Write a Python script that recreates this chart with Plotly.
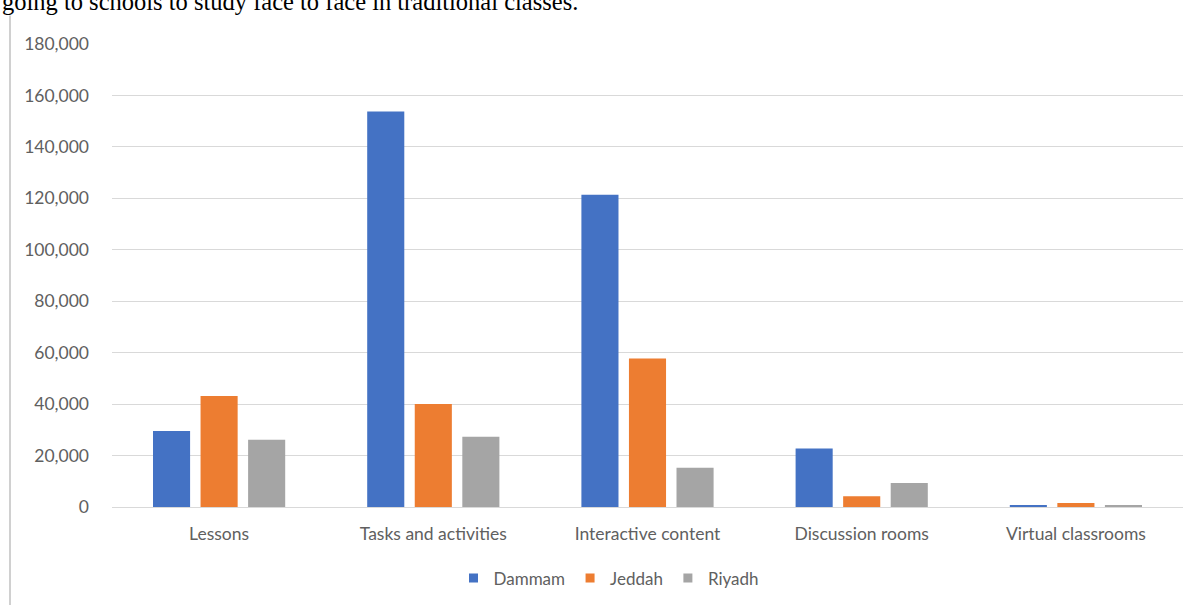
import plotly.graph_objects as go

# Usage counts by feature and city
categories = ["Lessons", "Tasks and activities", "Interactive content",
              "Discussion rooms", "Virtual classrooms"]
dammam = [29500, 153800, 121400, 22700, 700]
jeddah = [43200, 40000, 57700, 4200, 1600]
riyadh = [26100, 27300, 15300, 9300, 600]

series_names = ["Dammam", "Jeddah", "Riyadh"]
series_values = [dammam, jeddah, riyadh]
colors = ["#4472C4", "#ED7D31", "#A5A5A5"]

y_ticks = list(range(0, 180001, 20000))
y_tick_text = [f"{v:,}" for v in y_ticks]

W, H = 1197, 607
L, R, T, B = 112, 14, 43.5, 98.5
plot_w = W - L - R
plot_h = H - T - B

fig = go.Figure()
for name, vals, col in zip(series_names, series_values, colors):
    fig.add_trace(go.Bar(x=categories, y=vals, name=name, marker_color=col,
                         marker_line_width=0, showlegend=False))
# small square legend keys
for name, col in zip(series_names, colors):
    fig.add_trace(go.Scatter(x=[None], y=[None], mode="markers", name=name,
                             marker=dict(symbol="square", size=9, color=col)))

font_family = "Lato, Carlito, 'Open Sans', sans-serif"
text_grey = "#606060"
fig.update_layout(
    width=W, height=H,
    margin=dict(l=L, r=R, t=T, b=B, pad=0),
    paper_bgcolor="white", plot_bgcolor="white",
    barmode="group", bargap=0.334, bargroupgap=0.22,
    font=dict(family=font_family, size=17, color=text_grey),
    xaxis=dict(showgrid=False, showline=True, linecolor="#D9D9D9", linewidth=1,
               ticks="", tickfont=dict(size=17.5, color=text_grey),
               ticklabelstandoff=11, zeroline=False),
    yaxis=dict(range=[0, 180000], tickvals=y_ticks, ticktext=y_tick_text,
               showgrid=True, gridcolor="#D9D9D9", gridwidth=1,
               zeroline=False, showline=False, ticks="",
               tickfont=dict(size=17.5, color=text_grey),
               ticklabelstandoff=22),
    legend=dict(orientation="h", x=(609 - L) / plot_w, xanchor="center",
                y=1 - (579 - T) / plot_h, yanchor="middle",
                font=dict(size=17, color=text_grey),
                itemwidth=30, tracegroupgap=0, bgcolor="rgba(0,0,0,0)"),
    shapes=[dict(type="line", xref="paper", yref="paper",
                 x0=(10 - L) / plot_w, x1=(10 - L) / plot_w,
                 y0=1 - (15 - T) / plot_h, y1=1 - (H - T) / plot_h,
                 line=dict(color="#D0D0D0", width=2))],
    annotations=[dict(text="going to schools to study face to face in traditional classes.",
                      xref="paper", yref="paper",
                      x=(0 - L) / plot_w, xanchor="left",
                      y=1 + (T - 16) / plot_h, yanchor="bottom",
                      showarrow=False,
                      font=dict(family="Liberation Serif, Times New Roman, serif",
                                size=24.5, color="#000000"))],
)

fig.write_html("out.html")
